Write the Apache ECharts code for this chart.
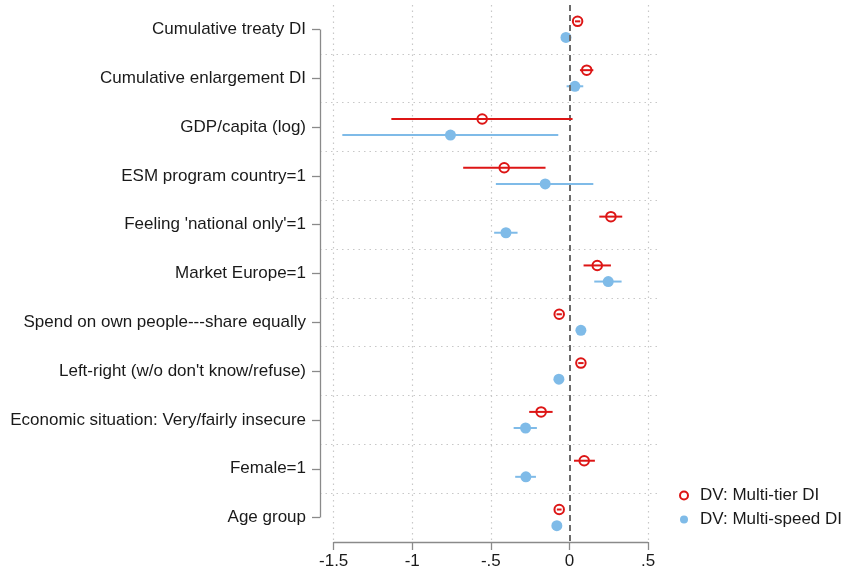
<!DOCTYPE html>
<html>
<head>
<meta charset="utf-8">
<script src="https://cdn.jsdelivr.net/npm/echarts@6/dist/echarts.min.js"></script>
<style>
html,body{margin:0;padding:0;background:#fff;}
#chart{width:844px;height:573px;}
</style>
</head>
<body>
<div id="chart"></div>
<script>
const categories = [
  "Cumulative treaty DI",
  "Cumulative enlargement DI",
  "GDP/capita (log)",
  "ESM program country=1",
  "Feeling 'national only'=1",
  "Market Europe=1",
  "Spend on own people---share equally",
  "Left-right (w/o don't know/refuse)",
  "Economic situation: Very/fairly insecure",
  "Female=1",
  "Age group"
];
const tierCoef  = [0.052, 0.110, -0.555, -0.415, 0.264, 0.177, -0.065, 0.073, -0.180, 0.094, -0.065];
const tierLow   = [0.035, 0.067, -1.133, -0.676, 0.190, 0.090, -0.082, 0.056, -0.256, 0.029, -0.080];
const tierHigh  = [0.069, 0.152,  0.020, -0.152, 0.336, 0.264, -0.048, 0.090, -0.107, 0.162, -0.050];
const speedCoef = [-0.022, 0.035, -0.757, -0.154, -0.404, 0.247, 0.073, -0.067, -0.279, -0.277, -0.080];
const speedLow  = [-0.038, -0.018, -1.445, -0.468, -0.479, 0.158, 0.057, -0.083, -0.355, -0.345, -0.096];
const speedHigh = [-0.006, 0.088, -0.071, 0.152, -0.330, 0.332, 0.089, -0.051, -0.207, -0.213, -0.064];
const xTicks = [-1.5, -1, -0.5, 0, 0.5];
const seriesNames = ["DV: Multi-tier DI", "DV: Multi-speed DI"];

const RED = "#dd1515";
const BLUE = "#7fbbe8";
const OFF = 0.165;
const X_MIN = -1.587, X_MAX = 0.5636;
const Y_MIN = -0.5, Y_MAX = 10.5;
const idx = categories.map((c, i) => i);

const tierPts = tierCoef.map((v, i) => [v, i - OFF]);
const speedPts = speedCoef.map((v, i) => [v, i + OFF]);
const tierBars = tierLow.map((v, i) => [v, tierHigh[i], i - OFF]);
const speedBars = speedLow.map((v, i) => [v, speedHigh[i], i + OFF]);

function fmtTick(v) {
  if (Math.abs(v) < 1e-9) return "0";
  return String(v).replace(/^(-?)0\./, "$1.");
}

function barRender(color) {
  return function (params, api) {
    const p1 = api.coord([api.value(0), api.value(2)]);
    const p2 = api.coord([api.value(1), api.value(2)]);
    return {
      type: "line",
      shape: { x1: p1[0], y1: p1[1], x2: p2[0], y2: p2[1] },
      style: { stroke: color, lineWidth: 2 }
    };
  };
}

const gridLineStyle = { color: "#c8c8c8", type: [1.5, 4], width: 1.2 };
const markLines = [];
xTicks.forEach(t => {
  if (t !== 0) markLines.push({ xAxis: t, lineStyle: gridLineStyle });
});
for (let i = 0; i < categories.length - 1; i++) {
  markLines.push({ yAxis: i + 0.5, lineStyle: gridLineStyle });
}
markLines.push({ xAxis: 0, lineStyle: { color: "#6b6b6b", type: [6, 4], width: 2 } });
markLines.push([
  { coord: [xTicks[0], Y_MAX], lineStyle: { color: "#8a8a8a", type: "solid", width: 1.3 } },
  { coord: [xTicks[xTicks.length - 1], Y_MAX] }
]);
markLines.push([
  { coord: [X_MIN, idx[0]], lineStyle: { color: "#8a8a8a", type: "solid", width: 1.3 } },
  { coord: [X_MIN, idx[idx.length - 1]] }
]);

const chart = echarts.init(document.getElementById("chart"), null, { renderer: "canvas" });
chart.setOption({
  animation: false,
  backgroundColor: "#fff",
  textStyle: { fontFamily: "Liberation Sans, Arial, sans-serif" },
  grid: { left: 320, right: 186, top: 5, bottom: 31, containLabel: false },
  xAxis: {
    type: "value",
    min: X_MIN, max: X_MAX,
    axisLine: { show: false, onZero: false },
    splitLine: { show: false },
    axisTick: { show: true, customValues: xTicks, length: 8, lineStyle: { color: "#8a8a8a", width: 1.3 } },
    axisLabel: { customValues: xTicks, formatter: fmtTick, fontSize: 17, color: "#1a1a1a", margin: 11 }
  },
  yAxis: {
    type: "value",
    inverse: true,
    min: Y_MIN, max: Y_MAX,
    axisLine: { show: false, onZero: false },
    splitLine: { show: false },
    axisTick: { show: true, customValues: idx, length: 8, lineStyle: { color: "#8a8a8a", width: 1.3 } },
    axisLabel: { customValues: idx, formatter: v => categories[Math.round(v)], fontSize: 17, color: "#1a1a1a", margin: 14 }
  },
  legend: {
    orient: "vertical",
    left: 674, top: 482,
    itemWidth: 8, itemHeight: 8, itemGap: 7,
    textStyle: { fontSize: 17, color: "#1a1a1a", padding: [0, 0, 0, 7] },
    data: [
      { name: seriesNames[0], icon: "emptyCircle" },
      { name: seriesNames[1], icon: "circle" }
    ]
  },
  series: [
    {
      name: "grid",
      type: "scatter",
      data: [],
      silent: true,
      z: 1,
      markLine: { silent: true, symbol: ["none", "none"], label: { show: false }, animation: false, data: markLines }
    },
    {
      name: seriesNames[1] + " ci",
      type: "custom",
      renderItem: barRender(BLUE),
      encode: { x: [0, 1], y: 2 },
      data: speedBars,
      z: 3, silent: true
    },
    {
      name: seriesNames[1],
      type: "scatter",
      symbol: "circle",
      symbolSize: 11,
      itemStyle: { color: BLUE, opacity: 1 },
      data: speedPts,
      z: 4
    },
    {
      name: seriesNames[0],
      type: "scatter",
      symbol: "emptyCircle",
      symbolSize: 9.5,
      itemStyle: { color: RED, borderColor: RED, borderWidth: 2, opacity: 1 },
      data: tierPts,
      z: 5
    },
    {
      name: seriesNames[0] + " ci",
      type: "custom",
      renderItem: barRender(RED),
      encode: { x: [0, 1], y: 2 },
      data: tierBars,
      z: 6, silent: true
    }
  ]
});
</script>
</body>
</html>
